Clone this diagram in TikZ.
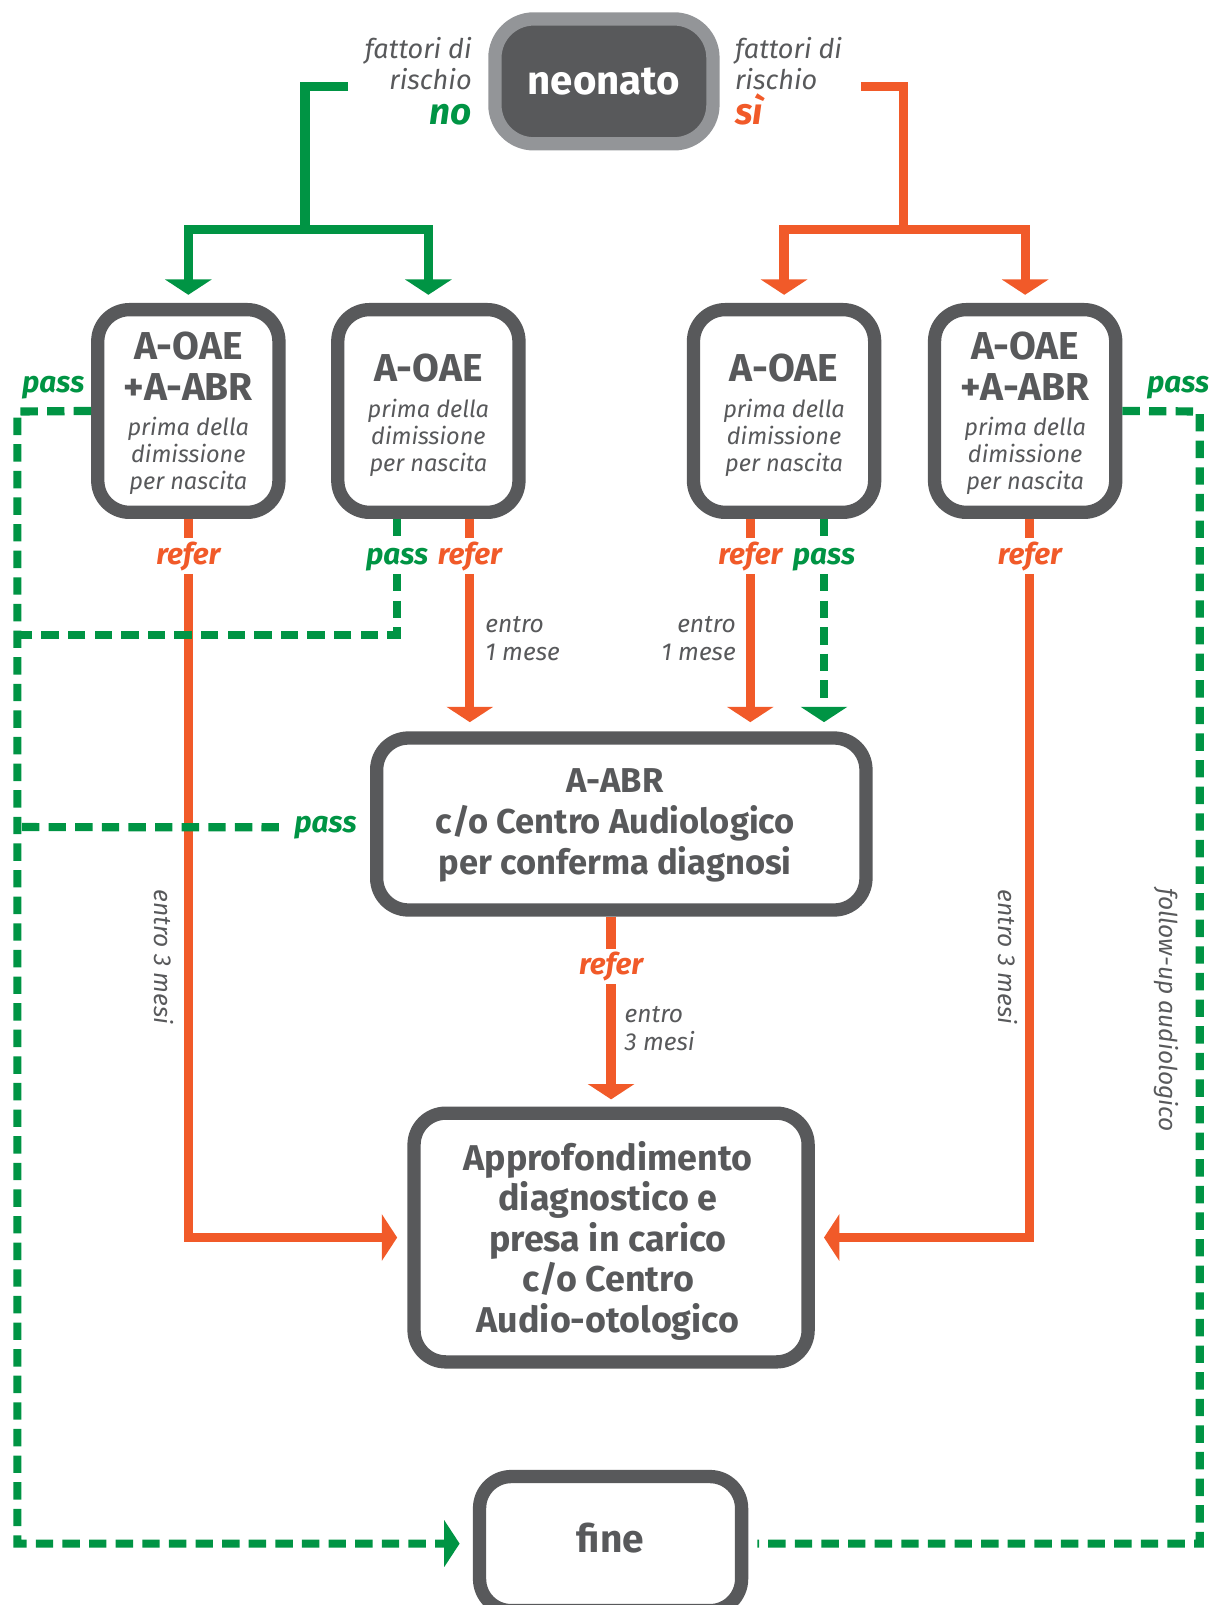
\documentclass[tikz,border=0pt]{standalone}
\usepackage{fontspec}
\setmainfont{Fira Sans}
\usetikzlibrary{arrows.meta}
\definecolor{dgray}{HTML}{58595B}
\definecolor{lgray}{HTML}{939598}
\definecolor{grn}{HTML}{009444}
\definecolor{org}{HTML}{F15A29}
\begin{document}
\begin{tikzpicture}[x=1pt,y=-1pt,
  box/.style={draw=dgray, line width=13pt, rounded corners=31pt, fill=white, inner sep=0pt},
  hd/.style={text=dgray, align=center, inner sep=0pt, font=\bfseries\fontsize{38}{40}\selectfont},
  bd/.style={text=dgray, align=center, inner sep=0pt, font=\bfseries\fontsize{33.7}{40}\selectfont},
  sb/.style={text=dgray, align=center, inner sep=0pt, font=\itshape\fontsize{23}{26.5}\selectfont},
  ol/.style={draw=org, line width=9pt},
  gl/.style={draw=grn, line width=9pt},
  gd/.style={draw=grn, line width=8pt, dash pattern=on 17pt off 9pt},
  tipo/.style={-{Triangle[width=45pt,length=15pt]}},
  lbl/.style={font=\bfseries\itshape\fontsize{29}{30}\selectfont, inner sep=3pt, anchor=base},
  note/.style={font=\itshape\fontsize{24}{27}\selectfont, text=dgray, inner sep=0pt},
]
\useasboundingbox (0,0) rectangle (1184,1568);

% top node
\node[draw=lgray, fill=dgray, line width=13pt, rounded corners=38pt, minimum width=213pt, minimum height=122pt, inner sep=0pt, text=white, font=\bfseries\fontsize{39.3}{40}\selectfont] (neo) at (590,79.5) {neonato};
\node[note, font=\itshape\fontsize{26.5}{30.5}\selectfont, align=right, anchor=east] (fno) at (461,62) {fattori di\\rischio};
\node[font=\bfseries\itshape\fontsize{36}{36}\selectfont, text=grn, anchor=base east, inner sep=0pt] (no) at (461,122) {no};
\node[note, font=\itshape\fontsize{26.5}{30.5}\selectfont, align=left, anchor=west] (fsi) at (718,62) {fattori di\\rischio};
\node[font=\bfseries\itshape\fontsize{36}{36}\selectfont, text=org, anchor=base west, inner sep=0pt] (si) at (718,122) {sì};

% screening boxes
\node[box, minimum width=177pt, minimum height=198pt] (b1) at (184,401.5) {};
\node[hd] (b1h) at (184,358) {A-OAE\\+A-ABR};
\node[sb] (b1s) at (184,445) {prima della\\dimissione\\per nascita};

\node[box, minimum width=177pt, minimum height=198pt] (b2) at (418.5,401.5) {};
\node[hd] (b2h) at (418.5,360) {A-OAE};
\node[sb] (b2s) at (418.5,428) {prima della\\dimissione\\per nascita};

\node[box, minimum width=177pt, minimum height=198pt] (b3) at (766,401.5) {};
\node[hd] (b3h) at (766,360) {A-OAE};
\node[sb] (b3s) at (766,428) {prima della\\dimissione\\per nascita};

\node[box, minimum width=177pt, minimum height=198pt] (b4) at (1001.5,401.5) {};
\node[hd] (b4h) at (1001.5,358) {A-OAE\\+A-ABR};
\node[sb] (b4s) at (1001.5,445) {prima della\\dimissione\\per nascita};

% A-ABR box
\node[box, minimum width=478pt, minimum height=168pt] (aabr) at (607,805) {};
\node[bd] (aabrt) at (601,806) {A-ABR\\c/o Centro Audiologico\\per conferma diagnosi};

% Approfondimento box
\node[box, minimum width=385pt, minimum height=243pt] (app) at (597,1209) {};
\node[bd, font=\bfseries\fontsize{35}{39.5}\selectfont] (appt) at (594,1212) {Approfondimento\\diagnostico e\\presa in carico\\c/o Centro\\Audio-otologico};

% fine box
\node[box, minimum width=256pt, minimum height=131pt] (fine) at (596.5,1508) {};
\node[hd] (finet) at (596.5,1503) {fine};

% labels
\node[lbl,text=org] (r1) at (184,551) {refer};
\node[lbl,text=grn] (p2) at (388,551) {pass};
\node[lbl,text=org] (r2) at (459,551) {refer};
\node[lbl,text=org] (r3) at (733,551) {refer};
\node[lbl,text=grn] (p3) at (805,551) {pass};
\node[lbl,text=org] (r4) at (1006,551) {refer};
\node[lbl,text=grn] (p1) at (52,383) {pass};
\node[lbl,text=grn] (p4) at (1151,383) {pass};
\node[lbl,text=grn] (pA) at (318,813) {pass};
\node[lbl,text=org] (rA) at (597,952) {refer};

\node[note, align=left, anchor=west] (e2) at (474,624) {entro\\1 mese};
\node[note, align=right, anchor=east] (e3) at (719,624) {entro\\1 mese};
\node[note, align=left, anchor=west] (eA) at (610,1005) {entro\\3 mesi};
\node[note, rotate=-90] (e1) at (160,935) {entro 3 mesi};
\node[note, rotate=-90] (e4) at (985,935) {entro 3 mesi};
\node[note, rotate=-90] (fu) at (1140,987) {follow-up audiologico};

% connectors from neonato
\coordinate (gs) at (340,84.5);
\coordinate (gj) at (298,224);
\draw[gl] (gs) -| (gj);
\draw[gl,tipo,shorten >=8pt] (gj) -| (b1.north);
\draw[gl,tipo,shorten >=8pt] (gj) -| (b2.north);
\coordinate (os) at (841,84.5);
\coordinate (oj) at (883,224);
\draw[ol] (os) -| (oj);
\draw[ol,tipo,shorten >=8pt] (oj) -| (b3.north);
\draw[ol,tipo,shorten >=8pt] (oj) -| (b4.north);

% box 1
\draw[ol] (b1.south) -- (r1);
\draw[ol,tipo,shorten >=10pt] (r1) |- (app.west);
\coordinate (lc) at (17,402);
\draw[gd,tipo,shorten >=13pt] (b1.west) -- (lc) |- (fine.west);

% box 2
\draw[gd] (b2.south -| p2) -- (p2);
\draw[gd] (p2) |- (17,620);
\draw[ol] (b2.south -| r2) -- (r2);
\draw[ol,tipo,shorten >=9pt] (r2) -- (r2 |- aabr.north);

% box 3
\draw[ol] (b3.south -| r3) -- (r3);
\draw[ol,tipo,shorten >=9pt] (r3) -- (r3 |- aabr.north);
\draw[gd] (b3.south -| p3) -- (p3);
\draw[gd,tipo,shorten >=9pt] (p3) -- (p3 |- aabr.north);

% box 4
\draw[ol] (b4.south -| r4) -- (r4);
\draw[ol,tipo,shorten >=9pt] (r4) |- (app.east);
\coordinate (rc) at (1172,402);
\draw[gd,shorten >=9pt] (b4.east) -- (rc) |- (fine.east);

% A-ABR
\draw[gd,shorten <=12pt] (pA) -- (17,808);
\draw[ol] (aabr.south -| rA) -- (rA);
\draw[ol,tipo,shorten >=7pt] (rA) -- (rA |- app.north);
\end{tikzpicture}
\end{document}
